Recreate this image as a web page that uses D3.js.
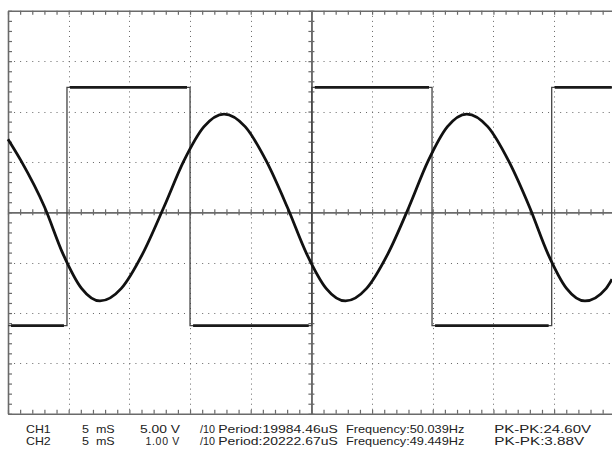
<!DOCTYPE html>
<html>
<head>
<meta charset="utf-8">
<script src="https://cdn.jsdelivr.net/npm/d3@7"></script>
<style>
    body { margin: 0; background: #fff; }
    svg { display: block; }
    .readout text { font-family: 'Liberation Sans', Arial, sans-serif; font-size: 10.5px; fill: #222; }
</style>
</head>
<body>
<div id="scope"></div>
<script>
// CH1 - square wave, 5.00 V/div (edges in ms, levels in volts)
const ch1EdgesMs = [4.86, 15.0, 25.03, 34.94, 44.8];
const ch1HighV = 12.4;
const ch1LowV = -11.25;
const ch1StartsHigh = false;

// CH2 - sine wave, 1.00 V/div
const ch2TimesMs = [0, 1.08, 3.02, 4.54, 6.06, 7.58, 9.34, 11.08, 12.84, 14.49, 16.15, 17.8, 19.54, 21.28, 23.02, 24.62, 26.21, 27.81, 29.55, 31.29, 33.03, 34.62, 36.21, 37.8, 39.53, 41.25, 42.98, 44.5, 46.02, 47.54, 49.29, 49.77];
const ch2Volts = [1.45, 1.02, 0.1, -0.83, -1.51, -1.76, -1.51, -0.83, 0.1, 1.02, 1.7, 1.95, 1.7, 1.02, 0.1, -0.83, -1.51, -1.76, -1.51, -0.83, 0.1, 1.02, 1.7, 1.95, 1.7, 1.02, 0.1, -0.83, -1.51, -1.76, -1.51, -1.33];

// readout rows at the bottom
const readoutRows = [
    ['CH1', '5  mS', '5.00 V', '/10', 'Period:19984.46uS', 'Frequency:50.039Hz', 'PK-PK:24.60V'],
    ['CH2', '5  mS', '1.00 V', '/10', 'Period:20222.67uS', 'Frequency:49.449Hz', 'PK-PK:3.88V']
];
const readoutX = [26, 82, 180, 200, 218.3, 346, 494.3];
const readoutAnchor = ['start', 'start', 'end', 'start', 'start', 'start', 'start'];
const readoutWidth = [
    [24.7, 32.7, 40, 15, 119.4, 118.3, 96.7],
    [24.7, 32.7, null, 15, 119.4, 118.3, 90]
];

const width = 612;
const height = 450;
const plot = {left: 8, right: 614.8, top: 10.8, bottom: 413.8};
const xDivs = 10, yDivs = 8;

const svg = d3.select('#scope')
    .append('svg')
        .attr('viewBox', [0, 0, width, height])
        .attr('width', width)
        .attr('height', height);

const timeScale = d3.scaleLinear().domain([0, 50]).range([plot.left, plot.right]);
const divScale = d3.scaleLinear().domain([-4, 4]).range([plot.bottom, plot.top]);
const ch1Scale = d3.scaleLinear().domain([-20, 20]).range([plot.bottom, plot.top]);
const ch2Scale = d3.scaleLinear().domain([-4, 4]).range([plot.bottom, plot.top]);

const majorX = d3.range(0, 50.001, 5);
const minorX = d3.range(0, 50.001, 1);
const majorY = d3.range(-4, 4.001, 1);
const minorY = d3.range(-4, 4.001, 0.2);

// dotted graticule, one dot each 1/10 division
const grid = svg.append('g').attr('stroke', '#666').attr('stroke-width', 1);
const dxDot = (plot.right - plot.left) / xDivs / 10;
const dyDot = (plot.bottom - plot.top) / yDivs / 10;
grid.selectAll('.hgrid')
    .data(majorY.filter(d => d !== 0 && Math.abs(d) !== 4))
    .join('line')
        .attr('x1', plot.left).attr('x2', plot.right)
        .attr('y1', d => Math.round(divScale(d)) + 0.5).attr('y2', d => Math.round(divScale(d)) + 0.5)
        .attr('stroke-dasharray', `1 ${dxDot - 1}`);
grid.selectAll('.vgrid')
    .data(majorX.filter(d => d !== 25 && d !== 0))
    .join('line')
        .attr('x1', d => Math.round(timeScale(d)) + 0.5).attr('x2', d => Math.round(timeScale(d)) + 0.5)
        .attr('y1', plot.top).attr('y2', plot.bottom)
        .attr('stroke-dasharray', `1 ${dyDot - 1}`);

// border with ticks
const frame = svg.append('g').attr('class', 'frame');
frame.append('g')
    .attr('transform', `translate(0,${plot.top})`)
    .call(d3.axisBottom(timeScale).tickValues(minorX).tickSize(4).tickSizeOuter(0).tickFormat(''));
frame.append('g')
    .attr('transform', `translate(0,${plot.bottom})`)
    .call(d3.axisTop(timeScale).tickValues(minorX).tickSize(4).tickSizeOuter(0).tickFormat(''));
frame.append('g')
    .attr('transform', `translate(${plot.left},0)`)
    .call(d3.axisRight(divScale).tickValues(minorY).tickSize(4).tickSizeOuter(0).tickFormat(''));

// center cross with ticks on both sides
const cross = svg.append('g').attr('class', 'frame');
cross.append('g')
    .attr('transform', `translate(0,${divScale(0)})`)
    .call(d3.axisBottom(timeScale).tickValues(minorX).tickSize(3).tickSizeOuter(0).tickFormat(''));
cross.append('g')
    .attr('transform', `translate(0,${divScale(0)})`)
    .call(d3.axisTop(timeScale).tickValues(minorX).tickSize(3).tickSizeOuter(0).tickFormat(''));
cross.append('g')
    .attr('transform', `translate(${timeScale(25)},0)`)
    .call(d3.axisLeft(divScale).tickValues(minorY).tickSize(3).tickSizeOuter(0).tickFormat(''));
cross.append('g')
    .attr('transform', `translate(${timeScale(25)},0)`)
    .call(d3.axisRight(divScale).tickValues(minorY).tickSize(3).tickSizeOuter(0).tickFormat(''));

svg.selectAll('.frame .domain').attr('stroke', '#6a6a6a').attr('stroke-width', 1.6);
svg.selectAll('.frame .tick line').attr('stroke', '#6a6a6a').attr('stroke-width', 1.2);

// CH1 square wave: build the step points from the edges
let state = ch1StartsHigh;
const ch1Points = [[0, state ? ch1HighV : ch1LowV]];
ch1EdgesMs.forEach(t => {
    ch1Points.push([t, state ? ch1HighV : ch1LowV]);
    state = !state;
    ch1Points.push([t, state ? ch1HighV : ch1LowV]);
});
ch1Points.push([50, state ? ch1HighV : ch1LowV]);

const ch1Line = d3.line()
    .x(d => timeScale(d[0]))
    .y(d => ch1Scale(d[1]));
svg.append('path')
    .datum(ch1Points)
    .attr('fill', 'none')
    .attr('stroke', '#444')
    .attr('stroke-width', 1.3)
    .attr('d', ch1Line);

// the flat levels are drawn heavier (noise on the trace)
const ch1Levels = [];
for (let i = 0; i < ch1Points.length - 1; i += 2) {
    ch1Levels.push([ch1Points[i], ch1Points[i + 1]]);
}
svg.append('g')
    .selectAll('path')
    .data(ch1Levels)
    .join('path')
        .attr('fill', 'none')
        .attr('stroke', '#1a1a1a')
        .attr('stroke-width', 2.6)
        .attr('d', d => ch1Line([[d[0][0] + 0.25, d[0][1]], [d[1][0] - 0.25, d[1][1]]]));

// CH2 sine
const ch2Points = ch2TimesMs.map((t, i) => [t, ch2Volts[i]]);
svg.append('path')
    .datum(ch2Points)
    .attr('fill', 'none')
    .attr('stroke', '#111')
    .attr('stroke-width', 2.8)
    .attr('stroke-linejoin', 'round')
    .attr('d', d3.line()
        .x(d => timeScale(d[0]))
        .y(d => ch2Scale(d[1]))
        .curve(d3.curveMonotoneX));

// readout
const readout = svg.append('g').attr('class', 'readout');
readoutRows.forEach((row, r) => {
    readout.append('g')
        .selectAll('text')
        .data(row)
        .join('text')
            .attr('x', (d, i) => readoutX[i])
            .attr('y', 433.4 + r * 11.8)
            .attr('text-anchor', (d, i) => readoutAnchor[i])
            .attr('textLength', (d, i) => readoutWidth[r][i])
            .attr('lengthAdjust', 'spacingAndGlyphs')
            .attr('xml:space', 'preserve')
            .style('white-space', 'pre')
            .style('letter-spacing', (d, i) => readoutWidth[r][i] ? null : '0.7px')
            .text(d => d);
});
</script>
</body>
</html>
